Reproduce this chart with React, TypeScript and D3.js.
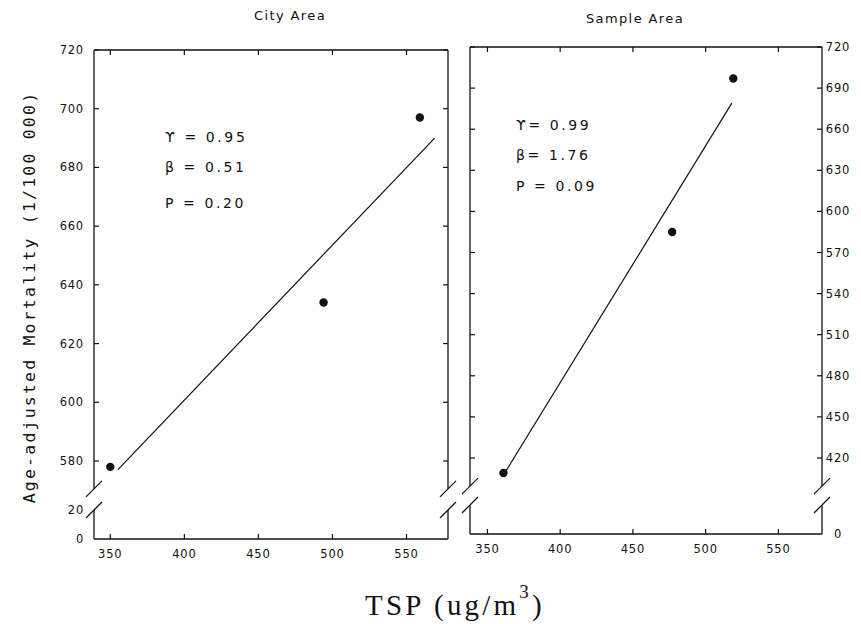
// TSP vs age-adjusted mortality, two panels with broken y axes.
// D3 does the scales and line geometry, React renders the SVG.

import * as d3 from "d3";

// ── Data ──────────────────────────────────────────────────────────────────────

const xTicks = [350, 400, 450, 500, 550];

const cityTsp = [350, 494, 559];
const cityMortality = [578, 634, 697];
const cityFitTsp = [355, 569];
const cityFitMortality = [577, 690];
const cityYTicks = [580, 600, 620, 640, 660, 680, 700, 720];
const cityLowTicks = [0, 20];
const cityStats = ["ϒ = 0.95", "β = 0.51", "P = 0.20"];

const sampleTsp = [361, 477, 519];
const sampleMortality = [409, 585, 697];
const sampleFitTsp = [363, 518];
const sampleFitMortality = [411, 679];
const sampleYTicks = [420, 450, 480, 510, 540, 570, 600, 630, 660, 690, 720];
const sampleLowTicks = [0];
const sampleStats = ["ϒ= 0.99", "β= 1.76", "P = 0.09"];

const INK = "#111";
const TICK_FONT = "'DejaVu Sans', sans-serif";

interface PanelProps {
  title: string;
  titleX: number;
  titleY: number;
  frame: { left: number; right: number; top: number; bottom: number };
  xDomain: [number, number];
  yTicks: number[];
  upperPx: [number, number]; // pixel of lowest tick, pixel of 720
  breakUpper: number; // y value where the upper segment stops
  lowTicks: number[];
  xs: number[];
  ys: number[];
  fitX: number[];
  fitY: number[];
  labelSide: "left" | "right";
  stats: string[];
  statsX: number;
  statsY: number[];
}

function Panel(p: PanelProps) {
  const { left, right, top, bottom } = p.frame;
  const x = d3.scaleLinear().domain(p.xDomain).range([left, right]);
  const yUp = d3
    .scaleLinear()
    .domain([p.yTicks[0], p.yTicks[p.yTicks.length - 1]])
    .range(p.upperPx);
  const yLow = d3.scaleLinear().domain([0, 20]).range([bottom, bottom - 29]);

  const yB1 = yUp(p.breakUpper);
  const yB2 = yLow(20);

  const line = d3
    .line<number>()
    .x((_, i) => x(p.fitX[i]))
    .y((d) => yUp(d));

  const slash = (cx: number, cy: number) => `M${cx - 8},${cy + 8}L${cx + 8},${cy - 8}`;

  const edge = (ex: number) => (
    <g>
      <line x1={ex} x2={ex} y1={top} y2={yB1} stroke={INK} strokeWidth={1.3} />
      <line x1={ex} x2={ex} y1={yB2} y2={bottom} stroke={INK} strokeWidth={1.3} />
      <path d={slash(ex, yB1)} stroke={INK} strokeWidth={1.3} />
      <path d={slash(ex, yB2)} stroke={INK} strokeWidth={1.3} />
    </g>
  );

  const labelX = p.labelSide === "left" ? left - 10 : right + 16;
  const anchor = p.labelSide === "left" ? "end" : "middle";

  return (
    <g>
      <text
        x={p.titleX}
        y={p.titleY}
        textAnchor="middle"
        dominantBaseline="central"
        fontFamily={TICK_FONT}
        fontSize={13}
        letterSpacing={1.4}
        fill={INK}
      >
        {p.title}
      </text>

      {/* frame */}
      <line x1={left} x2={right} y1={top} y2={top} stroke={INK} strokeWidth={1.3} />
      <line x1={left} x2={right} y1={bottom} y2={bottom} stroke={INK} strokeWidth={1.5} />
      {edge(left)}
      {edge(right)}

      {/* x ticks */}
      {xTicks.map((t) => (
        <g key={t}>
          <line x1={x(t)} x2={x(t)} y1={bottom} y2={bottom - 5} stroke={INK} strokeWidth={1.2} />
          <line x1={x(t)} x2={x(t)} y1={top} y2={top + 5} stroke={INK} strokeWidth={1.2} />
          <text
            x={x(t)}
            y={bottom + 15}
            textAnchor="middle"
            dominantBaseline="central"
            fontFamily={TICK_FONT}
            fontSize={11.5}
            letterSpacing={0.8}
            fill={INK}
          >
            {t}
          </text>
        </g>
      ))}

      {/* y ticks, upper segment */}
      {p.yTicks.map((t) => (
        <g key={t}>
          <line x1={left} x2={left + 5} y1={yUp(t)} y2={yUp(t)} stroke={INK} strokeWidth={1.2} />
          <line x1={right} x2={right - 5} y1={yUp(t)} y2={yUp(t)} stroke={INK} strokeWidth={1.2} />
          <text
            x={labelX}
            y={yUp(t)}
            textAnchor={anchor}
            dominantBaseline="central"
            fontFamily={TICK_FONT}
            fontSize={11.5}
            letterSpacing={0.8}
            fill={INK}
          >
            {t}
          </text>
        </g>
      ))}

      {/* y ticks, lower segment */}
      {p.lowTicks.map((t) => (
        <text
          key={t}
          x={labelX}
          y={yLow(t)}
          textAnchor={anchor}
          dominantBaseline="central"
          fontFamily={TICK_FONT}
          fontSize={11.5}
          letterSpacing={0.8}
          fill={INK}
        >
          {t}
        </text>
      ))}

      {/* regression line */}
      <path d={line(p.fitY) ?? ""} fill="none" stroke={INK} strokeWidth={1.2} />

      {/* observations */}
      {p.xs.map((v, i) => (
        <circle key={i} cx={x(v)} cy={yUp(p.ys[i])} r={4.2} fill={INK} />
      ))}

      {/* statistics */}
      {p.stats.map((s, i) => (
        <text
          key={s}
          x={p.statsX}
          y={p.statsY[i]}
          dominantBaseline="central"
          fontFamily={TICK_FONT}
          fontSize={14}
          letterSpacing={2.6}
          fill={INK}
        >
          {s}
        </text>
      ))}
    </g>
  );
}

export default function App() {
  return (
    <svg
      width={861}
      height={624}
      style={{ position: "absolute", left: 0, top: 0, background: "#fff" }}
    >
      <rect width={861} height={624} fill="#fff" />

      <Panel
        title="City Area"
        titleX={290}
        titleY={15}
        frame={{ left: 94, right: 448, top: 50, bottom: 539 }}
        xDomain={[339, 578]}
        yTicks={cityYTicks}
        upperPx={[461, 50]}
        breakUpper={570.5}
        lowTicks={cityLowTicks}
        xs={cityTsp}
        ys={cityMortality}
        fitX={cityFitTsp}
        fitY={cityFitMortality}
        labelSide="left"
        stats={cityStats}
        statsX={165}
        statsY={[137, 167, 203]}
      />

      <Panel
        title="Sample Area"
        titleX={635}
        titleY={18}
        frame={{ left: 470, right: 822, top: 47, bottom: 534 }}
        xDomain={[338, 580]}
        yTicks={sampleYTicks}
        upperPx={[458, 47]}
        breakUpper={399.5}
        lowTicks={sampleLowTicks}
        xs={sampleTsp}
        ys={sampleMortality}
        fitX={sampleFitTsp}
        fitY={sampleFitMortality}
        labelSide="right"
        stats={sampleStats}
        statsX={516}
        statsY={[125, 155, 186]}
      />

      {/* y axis title */}
      <text
        transform="translate(29,297) rotate(-90)"
        textAnchor="middle"
        dominantBaseline="central"
        fontFamily="'DejaVu Sans Mono', monospace"
        fontSize={16.5}
        letterSpacing={2.2}
        fill={INK}
      >
        Age-adjusted Mortality (1/100 000)
      </text>

      {/* x axis title */}
      <text
        x={455}
        y={615}
        textAnchor="middle"
        fontFamily="'Liberation Serif', 'DejaVu Serif', serif"
        fontSize={29}
        letterSpacing={3.2}
        fill={INK}
      >
        TSP (ug/m
        <tspan dy={-17} fontSize={19}>
          3
        </tspan>
        <tspan dy={17}>)</tspan>
      </text>
    </svg>
  );
}
